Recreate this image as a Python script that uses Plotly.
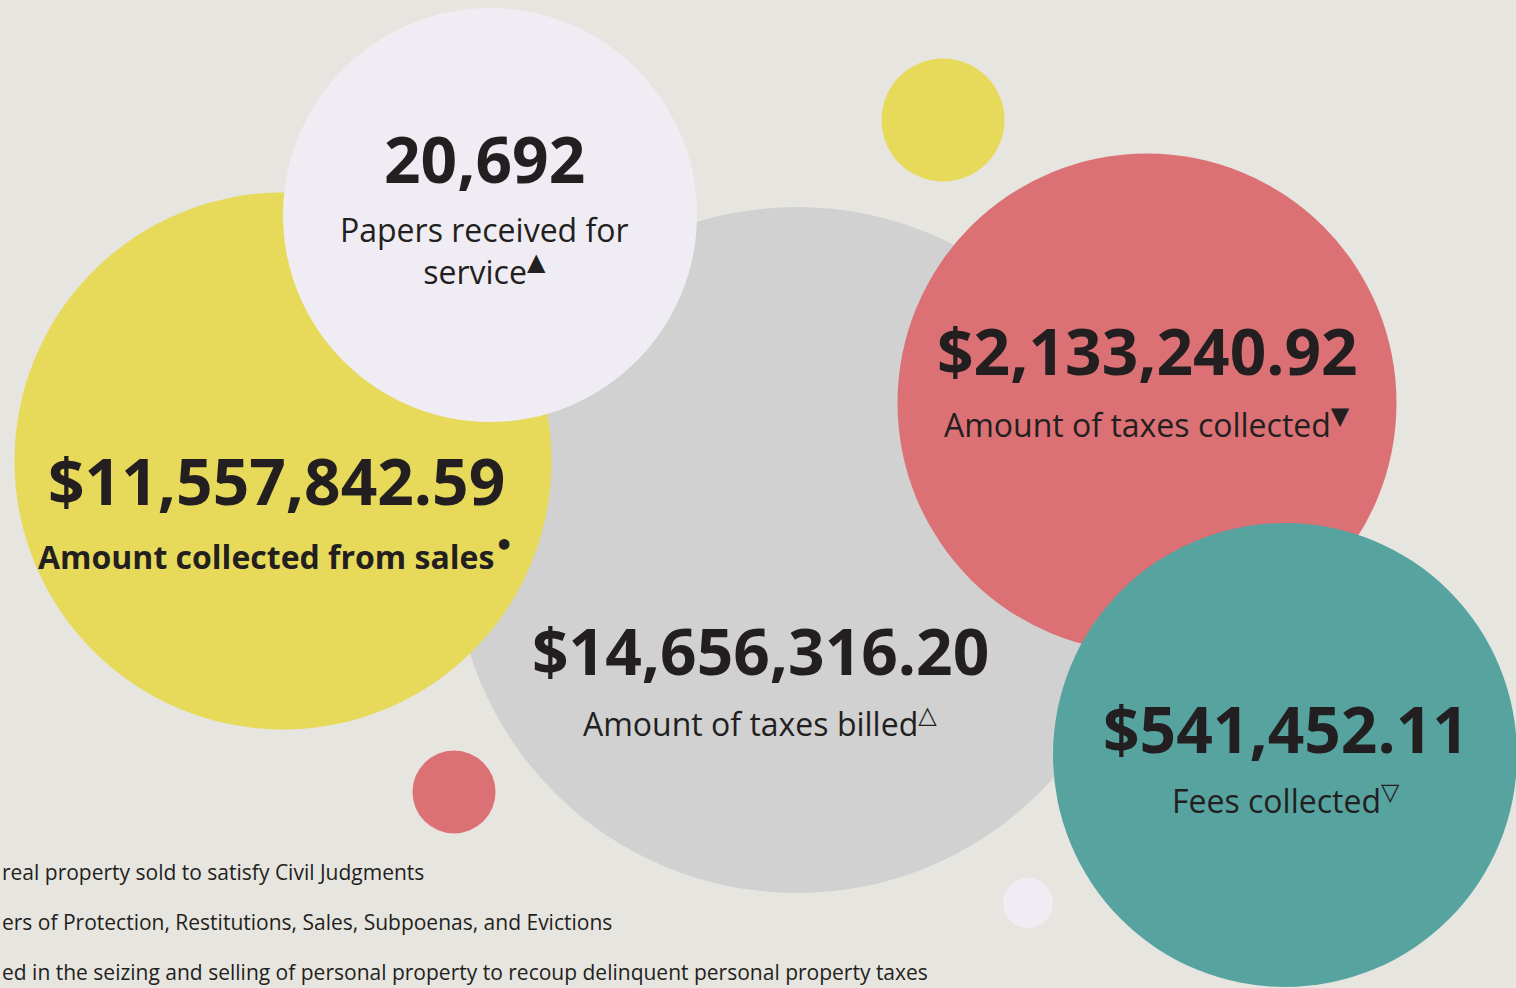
import plotly.graph_objects as go

# ---- data ----
stat_values = ["$14,656,316.20", "$11,557,842.59", "20,692", "$2,133,240.92", "$541,452.11"]
stat_labels = ["Amount of taxes billed", "Amount collected from sales",
               "Papers received for<br>service", "Amount of taxes collected", "Fees collected"]
stat_marks = ["△", "•", "▲", "▼", "▽"]
footnotes = [
    "real property sold to satisfy Civil Judgments",
    "ers of Protection, Restitutions, Sales, Subpoenas, and Evictions",
    "ed in the seizing and selling of personal property to recoup delinquent personal property taxes",
]

# ---- layout of bubbles (pixel space) ----
bubble_x = [797, 283, 490, 1147, 1285]
bubble_y = [550, 461, 215, 403, 755]
bubble_d = [686, 537, 414, 499, 464]
bubble_colors = ["#d1d1d1", "#e7d95a", "#f0ecf3", "#db7174", "#56a3a0"]
label_bold = [False, True, False, False, False]
num_x = [760, 276, 484, 1147, 1286]
num_y = [650, 480, 158, 350, 728]
lab_x = [760, 276, 484, 1147, 1286]
lab_y = [723, 553, 250, 424, 800]

deco_x = [943, 454, 1028]
deco_y = [120, 792, 903]
deco_d = [123, 83, 50]
deco_colors = ["#e7d95a", "#db7174", "#f0ecf3"]

foot_y = [872, 922, 972]

BG = "#e7e5df"
INK = "#231f20"
W, H = 1516, 988

fig = go.Figure()
fig.add_trace(go.Scatter(
    x=bubble_x, y=bubble_y, mode="markers",
    marker=dict(size=bubble_d, sizemode="diameter", color=bubble_colors, opacity=1,
                line=dict(width=0)),
    hoverinfo="skip", showlegend=False,
))
fig.add_trace(go.Scatter(
    x=deco_x, y=deco_y, mode="markers",
    marker=dict(size=deco_d, sizemode="diameter", color=deco_colors, opacity=1,
                line=dict(width=0)),
    hoverinfo="skip", showlegend=False,
))

ann = []
for i in range(len(stat_values)):
    ann.append(dict(x=num_x[i], y=num_y[i], xref="x", yref="y",
                    text="<b>" + stat_values[i] + "</b>", showarrow=False,
                    xanchor="center", yanchor="middle",
                    font=dict(family="Open Sans", size=64, color=INK)))
    mark = stat_marks[i]
    msize = 30 if mark == "•" else 24
    lab = (stat_labels[i] + "<sup><span style=\"font-family:'DejaVu Sans';font-size:%dpx\">%s</span></sup>"
           % (msize, mark))
    if label_bold[i]:
        lab = "<b>" + lab + "</b>"
    ann.append(dict(x=lab_x[i], y=lab_y[i], xref="x", yref="y",
                    text=lab, showarrow=False,
                    xanchor="center", yanchor="middle",
                    font=dict(family="Open Sans", size=32, color=INK)))

for t, yy in zip(footnotes, foot_y):
    ann.append(dict(x=0, y=yy, xref="x", yref="y", text=t,
                    showarrow=False, xanchor="left", yanchor="middle",
                    font=dict(family="Open Sans", size=21, color=INK)))

fig.update_layout(
    width=W, height=H,
    margin=dict(l=0, r=0, t=0, b=0),
    paper_bgcolor=BG, plot_bgcolor=BG,
    xaxis=dict(range=[0, W], visible=False, fixedrange=True),
    yaxis=dict(range=[H, 0], visible=False, fixedrange=True),
    annotations=ann,
    showlegend=False,
)

fig.write_html("out.html", config={"displayModeBar": False},
               post_script="document.body.style.margin='0';document.body.style.overflow='hidden';")
